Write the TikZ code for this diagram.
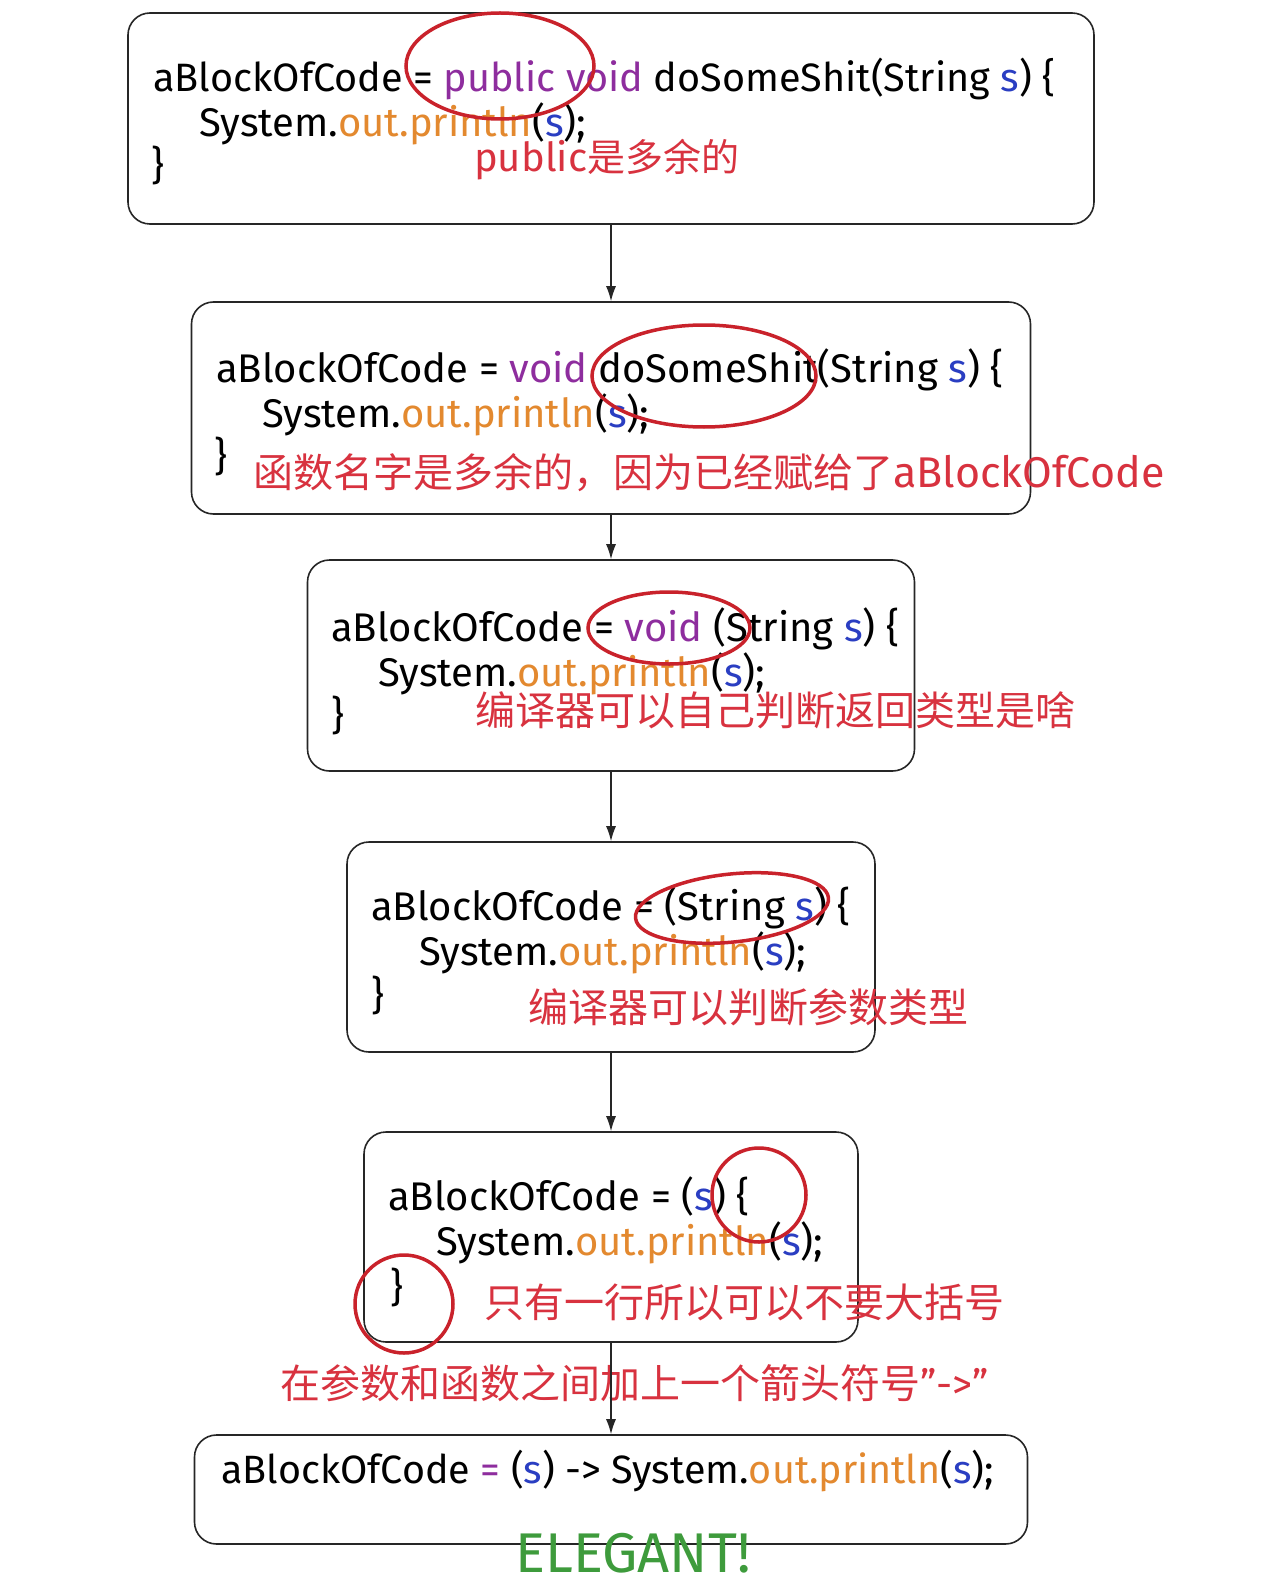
\documentclass[tikz,border=0pt]{standalone}
\usepackage{fontspec}
\usepackage{tikz}
\usetikzlibrary{arrows.meta}
\setmainfont{Fira Sans}
\newfontfamily\cjk{Noto Sans CJK SC}
\definecolor{kwpurple}{HTML}{8E2D9E}
\definecolor{fldorange}{HTML}{E3892F}
\definecolor{varblue}{HTML}{2A3EC2}
\definecolor{notered}{HTML}{D8323F}
\definecolor{ringred}{HTML}{C9222B}
\definecolor{okgreen}{HTML}{3E9B3C}

\newcommand\jkw[1]{\textcolor{kwpurple}{#1}}
\newcommand\jout[1]{\textcolor{fldorange}{#1}}
\newcommand\jvar[1]{\textcolor{varblue}{#1}}

\tikzset{
  codebox/.style={draw=black!85, line width=1.6pt, rounded corners=22pt, fill=white},
  codeline/.style={anchor=base west, inner sep=0pt, font=\fontsize{40}{46}\selectfont},
  note/.style={anchor=west, inner sep=0pt, text=notered, font=\fontsize{40}{46}\cjk},
  ring/.style={draw=ringred, line width=3.5pt},
  flow/.style={-{Latex[length=15pt,width=10pt]}, line width=1.3pt, black!85},
}

\begin{document}
\begin{tikzpicture}[x=1pt, y=-1pt]
  \fill[white] (0,0) rectangle (1262,1594);
  \useasboundingbox (0,0) rectangle (1262,1594);

  % the six steps
  \node[codebox, minimum width=966pt, minimum height=211pt] (boxA) at (611,118.5) {};
  \node[codebox, minimum width=839pt, minimum height=212pt] (boxB) at (611,408) {};
  \node[codebox, minimum width=607pt, minimum height=211pt] (boxC) at (611,665.5) {};
  \node[codebox, minimum width=528pt, minimum height=210pt] (boxD) at (611,947) {};
  \node[codebox, minimum width=494pt, minimum height=210pt] (boxE) at (611,1237) {};
  \node[codebox, minimum width=833pt, minimum height=109pt] (boxF) at (611,1489.5) {};

  % step 1
  \node[codeline, font=\fontsize{39.6}{46}\selectfont] (codeA1) at (153,92) {aBlockOfCode = \jkw{public void} doSomeShit(String \jvar{s}) \{};
  \node[codeline] (codeA2) at (199,137) {System.\jout{out.println}(\jvar{s});};
  \node[codeline] (codeA3) at (151,180) {\}};
  \node[note] (noteA) at (474,160) {{\rmfamily public}{\fontsize{38}{40}\selectfont 是多余的}};

  % step 2
  \node[codeline] (codeB1) at (216,382) {aBlockOfCode = \jkw{void} doSomeShit(String \jvar{s}) \{};
  \node[codeline] (codeB2) at (262,427) {System.\jout{out.println}(\jvar{s});};
  \node[codeline] (codeB3) at (214,470) {\}};
  \node[note] (noteB) at (253,473) {函数名字是多余的，因为已经赋给了{\rmfamily\fontsize{43}{46}\selectfont aBlockOfCode}};

  % step 3
  \node[codeline] (codeC1) at (331,641) {aBlockOfCode = \jkw{void} (String \jvar{s}) \{};
  \node[codeline] (codeC2) at (378,686) {System.\jout{out.println}(\jvar{s});};
  \node[codeline] (codeC3) at (331,729) {\}};
  \node[note] (noteC) at (475,710) {编译器可以自己判断返回类型是啥};

  % step 4
  \node[codeline] (codeD1) at (371,920) {aBlockOfCode = (String \jvar{s}) \{};
  \node[codeline] (codeD2) at (419,965) {System.\jout{out.println}(\jvar{s});};
  \node[codeline] (codeD3) at (371,1009) {\}};
  \node[note] (noteD) at (528,1007) {编译器可以判断参数类型};

  % step 5
  \node[codeline] (codeE1) at (388,1210) {aBlockOfCode = (\jvar{s}) \{};
  \node[codeline] (codeE2) at (436,1255) {System.\jout{out.println}(\jvar{s});};
  \node[codeline] (codeE3) at (390,1301) {\}};
  \node[note] (noteE) at (484,1302) {只有一行所以可以不要大括号};

  % last step
  \node[note] (noteF) at (280,1383) {在参数和函数之间加上一个箭头符号{\rmfamily "->"}};
  \node[codeline, font=\fontsize{39.5}{46}\selectfont] (codeF1) at (221,1483) {aBlockOfCode \jkw{=} (\jvar{s}) -> System.\jout{out.println}(\jvar{s});};
  \node[inner sep=0pt, text=okgreen, font=\fontsize{56}{60}\selectfont] (elegant) at (633,1553) {ELEGANT!};

  % red rings
  \draw[ring] (500,66) ellipse [x radius=94pt, y radius=53pt];
  \draw[ring] (704,376) ellipse [x radius=112pt, y radius=51pt];
  \draw[ring] (669,628) ellipse [x radius=81pt, y radius=36pt];
  \draw[ring, rotate around={6:(732,908)}] (732,908) ellipse [x radius=97pt, y radius=34pt];
  \draw[ring] (759,1195) circle [radius=47pt];
  \draw[ring] (404,1304) circle [radius=49pt];

  % arrows
  \draw[flow] (boxA.south) -- (boxB.north);
  \draw[flow] (boxB.south) -- (boxC.north);
  \draw[flow] (boxC.south) -- (boxD.north);
  \draw[flow] (boxD.south) -- (boxE.north);
  \draw[flow] (boxE.south) -- (boxF.north);
\end{tikzpicture}
\end{document}
